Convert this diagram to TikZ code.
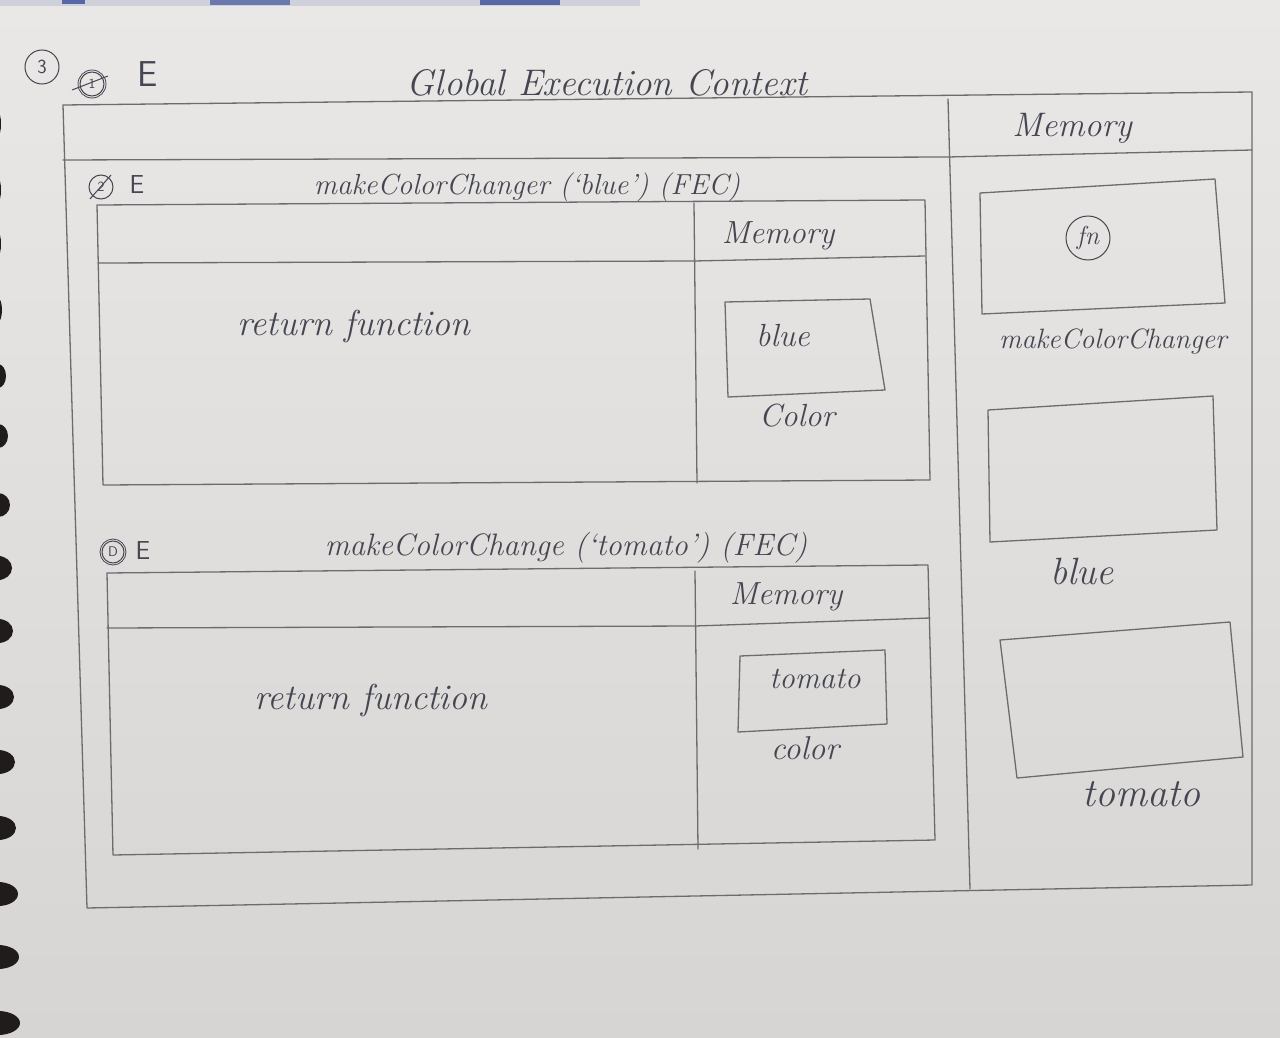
\documentclass[tikz,border=0pt]{standalone}
\usepackage{fontspec}
\definecolor{paperTop}{RGB}{233,232,230}
\definecolor{paperBot}{RGB}{214,213,211}
\definecolor{pencil}{RGB}{108,108,112}
\definecolor{ink}{RGB}{70,70,82}
\definecolor{hole}{RGB}{32,28,28}
\definecolor{cover}{RGB}{52,72,150}
\begin{document}
\begin{tikzpicture}[x=1pt,y=-1pt,
  pencilline/.style={draw=pencil,line width=1.3pt,line join=round,line cap=round},
  hand/.style={text=ink,inner sep=0pt,font=\itshape\fontsize{#1}{#1}\selectfont},
  hand/.default=26,
  letterE/.style={text=ink,inner sep=0pt,font=\sffamily\fontsize{#1}{#1}\selectfont},
  stepmark/.style={draw=ink,line width=1pt,circle,inner sep=0pt,minimum size=#1,
    font=\sffamily\fontsize{14}{14}\selectfont,text=ink},
  strike/.style={draw=ink,line width=1pt}]
% page of the notebook
\useasboundingbox (0,0) rectangle (1280,1038);
\clip (0,0) rectangle (1280,1038);
\shade[top color=paperTop,bottom color=paperBot] (0,0) rectangle (1280,1038);
% cover peeking out along the top edge
\fill[cover!15!paperTop] (0,0) rectangle (640,6);
\fill[cover!80!paperTop] (62,0) rectangle (85,4);
\fill[cover!70!paperTop] (210,0) rectangle (290,5);
\fill[cover!80!paperTop] (480,0) rectangle (560,5);
% spiral binding holes along the left edge
\foreach \yy/\rx in {124/3,190/3,244/3,310/4,376/8,436/10,505/12,568/14,631/15,697/16,762/17,828/18,894/20,957/21,1023/22}
  \fill[hole] (-2,\yy) ellipse ({\rx} and 12);

% ---------- Global Execution Context ----------
\node[hand=37] (gecTitle) at (607,83) {Global Execution Context};
\coordinate (gTL) at (63,105);
\coordinate (gTR) at (1252,92);
\coordinate (gBR) at (1252,885);
\coordinate (gBL) at (87,908);
\draw[pencilline] (gTL) -- (gTR) -- (gBR) -- (gBL) -- cycle;
\coordinate (gDivT) at (948,99);
\coordinate (gDivB) at (970,889);
\draw[pencilline] (gDivT) -- (gDivB);
\coordinate (gHeadL) at (63,160);
\coordinate (gHeadM) at (948,157);
\coordinate (gHeadR) at (1252,150);
\draw[pencilline] (gHeadL) -- (gHeadM) -- (gHeadR);
\node[hand=34] (gecMem) at (1072,128) {Memory};

% step marks in the top left corner
\node[stepmark=34,font=\sffamily\fontsize{20}{20}\selectfont] (stepThree) at (42,67) {3};
\node[stepmark=24] (stepOne) at (92,84) {1};
\draw[ink,line width=0.8pt] (stepOne) circle (14);
\draw[strike] (72,90) -- (108,76);
\node[letterE=36] (gecE) at (148,74) {E};

% ---------- makeColorChanger('blue') ----------
\node[stepmark=24] (stepTwoA) at (101,187) {2};
\draw[strike] (90,199) -- (111,175);
\node[letterE=26] (fecOneE) at (137,185) {E};
\node[hand=29] (fecOneTitle) at (527,187) {makeColorChanger (`blue') (FEC)};
\coordinate (aTL) at (97,205);
\coordinate (aTR) at (925,200);
\coordinate (aBR) at (930,480);
\coordinate (aBL) at (103,485);
\draw[pencilline] (aTL) -- (aTR) -- (aBR) -- (aBL) -- cycle;
\coordinate (aDivT) at (694,203);
\coordinate (aDivB) at (697,483);
\draw[pencilline] (aDivT) -- (aDivB);
\coordinate (aHeadL) at (98,263);
\coordinate (aHeadM) at (694,261);
\coordinate (aHeadR) at (925,256);
\draw[pencilline] (aHeadL) -- (aHeadM) -- (aHeadR);
\node[hand=32] (fecOneMem) at (778,236) {Memory};
\node[hand=36] (fecOneRet) at (354,326) {return function};
\coordinate (abTL) at (725,302);
\coordinate (abTR) at (870,299);
\coordinate (abBR) at (885,390);
\coordinate (abBL) at (728,397);
\draw[pencilline] (abTL) -- (abTR) -- (abBR) -- (abBL) -- cycle;
\node[hand=32] (fecOneVal) at (783,336) {blue};
\node[hand=32] (fecOneVar) at (797,416) {Color};

% ---------- makeColorChanger('tomato') ----------
\node[stepmark=22] (stepTwoB) at (113,552) {D};
\draw[ink,line width=0.8pt] (stepTwoB) circle (13);
\node[letterE=26] (fecTwoE) at (143,550) {E};
\node[hand=31] (fecTwoTitle) at (566,548) {makeColorChange (`tomato') (FEC)};
\coordinate (bTL) at (107,573);
\coordinate (bTR) at (928,565);
\coordinate (bBR) at (935,840);
\coordinate (bBL) at (113,855);
\draw[pencilline] (bTL) -- (bTR) -- (bBR) -- (bBL) -- cycle;
\coordinate (bDivT) at (695,571);
\coordinate (bDivB) at (698,849);
\draw[pencilline] (bDivT) -- (bDivB);
\coordinate (bHeadL) at (107,628);
\coordinate (bHeadM) at (695,626);
\coordinate (bHeadR) at (930,618);
\draw[pencilline] (bHeadL) -- (bHeadM) -- (bHeadR);
\node[hand=32] (fecTwoMem) at (786,597) {Memory};
\node[hand=36] (fecTwoRet) at (371,700) {return function};
\coordinate (bbTL) at (740,656);
\coordinate (bbTR) at (885,650);
\coordinate (bbBR) at (887,724);
\coordinate (bbBL) at (738,732);
\draw[pencilline] (bbTL) -- (bbTR) -- (bbBR) -- (bbBL) -- cycle;
\node[hand=31] (fecTwoVal) at (815,679) {tomato};
\node[hand=33] (fecTwoVar) at (805,748) {color};

% ---------- global memory ----------
\coordinate (m1TL) at (980,193);
\coordinate (m1TR) at (1215,179);
\coordinate (m1BR) at (1225,303);
\coordinate (m1BL) at (982,314);
\draw[pencilline] (m1TL) -- (m1TR) -- (m1BR) -- (m1BL) -- cycle;
\node[stepmark=44,font=\itshape\fontsize{26}{26}\selectfont] (fnMark) at (1088,238) {fn};
\node[hand=28] (memOneVar) at (1113,341) {makeColorChanger};

\coordinate (m2TL) at (988,410);
\coordinate (m2TR) at (1213,396);
\coordinate (m2BR) at (1217,530);
\coordinate (m2BL) at (990,542);
\draw[pencilline] (m2TL) -- (m2TR) -- (m2BR) -- (m2BL) -- cycle;
\node[hand=38] (memTwoVar) at (1082,571) {blue};

\coordinate (m3TL) at (1000,640);
\coordinate (m3TR) at (1230,622);
\coordinate (m3BR) at (1243,757);
\coordinate (m3BL) at (1017,778);
\draw[pencilline] (m3TL) -- (m3TR) -- (m3BR) -- (m3BL) -- cycle;
\node[hand=40] (memThreeVar) at (1141,794) {tomato};
\end{tikzpicture}
\end{document}
